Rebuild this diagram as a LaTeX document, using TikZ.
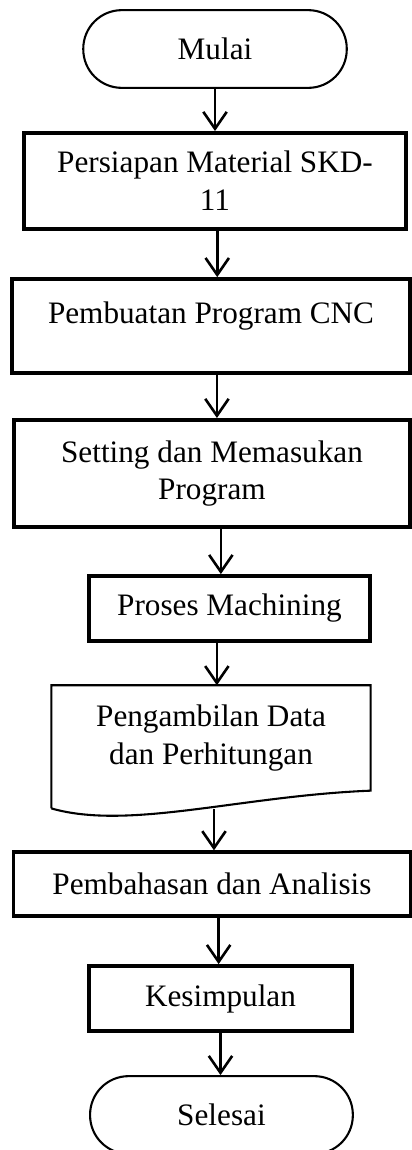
\documentclass[tikz,border=0pt]{standalone}
\usepackage{fontspec}
\setmainfont{Liberation Serif}
\usepackage{tikz}
\usetikzlibrary{shapes, arrows.meta, positioning, calc}

\begin{document}
\begin{tikzpicture}[
  font=\fontsize{12}{14.5}\selectfont,
  term/.style={draw, line width=0.8pt, rounded corners=0.52cm, align=center,
               minimum width=3.56cm, minimum height=1.05cm, inner sep=2pt},
  proc/.style={draw, line width=1.4pt, align=center, inner sep=2pt},
  arr/.style={-{Straight Barb[length=6.5pt, width=9pt, line width=1pt]}, line width=1pt},
]
\useasboundingbox (0,0) rectangle (5.566,-15.537);

\node[term] (mulai) at (2.905,-0.662) {Mulai};
\node[proc, minimum width=5.16cm, minimum height=1.30cm] (persiapan) at (2.905,-2.445)
  {Persiapan Material SKD-\\11};
\node[proc, minimum width=5.38cm, minimum height=1.27cm] (program) at (2.851,-4.404)
  {Pembuatan Program CNC\\[-4.5pt]\mbox{}};
\node[proc, minimum width=5.35cm, minimum height=1.45cm] (setting) at (2.864,-6.397)
  {Setting dan Memasukan\\Program};
\node[proc, minimum width=3.80cm, minimum height=0.88cm] (proses) at (3.100,-8.221)
  {Proses Machining};

% document shape: text node, outline drawn below
\node[minimum width=4.30cm, minimum height=1.41cm, align=center] (data) at (2.851,-9.970)
  {Pengambilan Data\\dan Perhitungan};
\draw[line width=0.8pt] ($(data.south west)+(0,-0.24)$) -- (data.north west)
  -- (data.north east) -- (data.south east)
  .. controls ($(data.south east)+(-1.76,-0.07)$) and ($(data.south west)+(1.05,-0.54)$)
  .. ($(data.south west)+(0,-0.24)$);

\node[proc, minimum width=5.36cm, minimum height=0.86cm] (bahas) at (2.864,-11.943)
  {Pembahasan dan Analisis};
\node[proc, minimum width=3.55cm, minimum height=0.88cm] (simpul) at (2.979,-13.490)
  {Kesimpulan};
\node[term, minimum width=3.55cm] (selesai) at (2.992,-15.064) {Selesai};

\draw[arr] (mulai.south) -- (mulai.south |- persiapan.north);
\draw[arr] ([xshift=0.03cm]persiapan.south) -- ([xshift=0.03cm]persiapan.south |- program.north);
\draw[arr] ([xshift=0.08cm]program.south) -- ([xshift=0.08cm]program.south |- setting.north);
\draw[arr] ([xshift=0.12cm]setting.south) -- ([xshift=0.12cm]setting.south |- proses.north);
\draw[arr] ([xshift=-0.17cm]proses.south) -- ([xshift=-0.17cm]proses.south |- data.north);
\draw[arr] ([xshift=0.04cm, yshift=-0.25cm]data.south) -- ([xshift=0.04cm]data.south |- bahas.north);
\draw[arr] ([xshift=0.09cm]bahas.south) -- ([xshift=0.09cm]bahas.south |- simpul.north);
\draw[arr] (simpul.south) -- (simpul.south |- selesai.north);
\end{tikzpicture}
\end{document}
